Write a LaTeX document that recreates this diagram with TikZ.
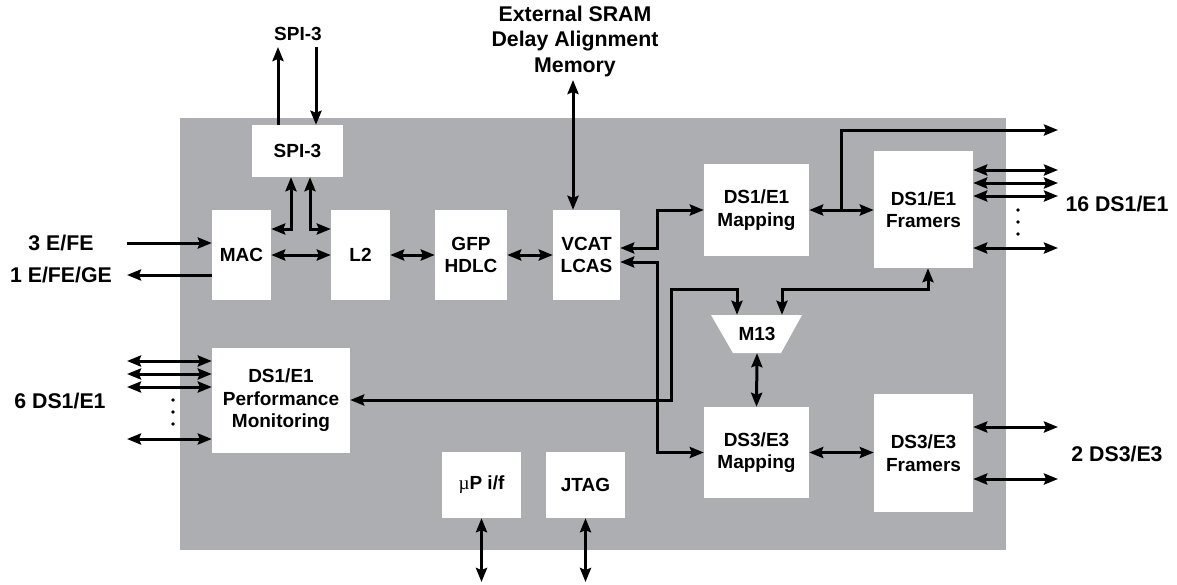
\documentclass[tikz,border=0pt]{standalone}
\usepackage{fontspec}
\setmainfont{Liberation Sans}
\newfontfamily\mufont{Liberation Serif}
\usetikzlibrary{arrows.meta}
\definecolor{chip}{RGB}{172,174,177}
\tikzset{
  tip/.tip={Stealth[length=14pt,width=11pt,inset=2pt]},
}
\begin{document}
\begin{tikzpicture}[x=1pt,y=-1pt,
  every node/.style={font=\bfseries\fontsize{19}{22.5}\selectfont, align=center, inner sep=0pt},
  extlbl/.style={font=\bfseries\fontsize{21.3}{25.5}\selectfont},
  blk/.style={fill=white, draw=none},
  uni/.style={line width=3pt, -tip},
  bi/.style={line width=3pt, tip-tip},
  dotmark/.style={fill=black},
]
\useasboundingbox (0,0) rectangle (1177,584);
\fill[chip] (180,118) rectangle (1006,550);

% blocks
\node[blk, minimum width=91pt, minimum height=52pt] (spi) at (297.5,151) {SPI-3};
\node[blk, minimum width=59pt, minimum height=90pt] (mac) at (241.5,255) {MAC};
\node[blk, minimum width=59pt, minimum height=90pt] (l2) at (360.5,255) {L2};
\node[blk, minimum width=72pt, minimum height=90pt] (gfp) at (471,255) {GFP\\HDLC};
\node[blk, minimum width=67pt, minimum height=90pt] (vcat) at (586.5,255) {VCAT\\LCAS};
\node[blk, minimum width=105pt, minimum height=92pt] (map1) at (756.5,210) {DS1/E1\\Mapping};
\node[blk, minimum width=99pt, minimum height=117pt] (fr1) at (923.5,209.5) {DS1/E1\\Framers};
\fill[white] (711,315) -- (802,315) -- (781,353) -- (733,353) -- cycle;
\node[minimum width=91pt, minimum height=38pt] (m13) at (757,334) {M13};
\node[blk, minimum width=105pt, minimum height=91pt] (map3) at (756.5,452.5) {DS3/E3\\Mapping};
\node[blk, minimum width=99pt, minimum height=118pt] (fr3) at (923.5,453) {DS3/E3\\Framers};
\node[blk, minimum width=138pt, minimum height=105pt] (pm) at (281,400.5) {DS1/E1\\Performance\\Monitoring};
\node[blk, minimum width=79pt, minimum height=66pt] (up) at (481.5,485) {{\mufont\mdseries µ}P i/f};
\node[blk, minimum width=79pt, minimum height=66pt] (jtag) at (585.5,485) {JTAG};

% external labels
\node (spilbl) at (298,34) {SPI-3};
\node[extlbl] (sram) at (575,41) {External SRAM\\Delay Alignment\\Memory};
\node[extlbl] (l3e) at (61,243) {3 E/FE};
\node[extlbl] (l1e) at (61,275) {1 E/FE/GE};
\node[extlbl] (l6) at (60,401) {6 DS1/E1};
\node[extlbl] (l16) at (1117,204) {16 DS1/E1};
\node[extlbl] (l2ds3) at (1117,454) {2 DS3/E3};

% SPI-3 external
\coordinate (so) at (278,47);
\coordinate (si) at (316,47);
\draw[uni] (spi.north -| so) -- (so);
\draw[uni] (si) -- (spi.north -| si);

% SPI-3 to MAC / L2
\coordinate (sa) at (291,229);
\coordinate (sb) at (310,229);
\draw[bi] (spi.south -| sa) -- (sa) -- (mac.east |- sa);
\draw[bi] (spi.south -| sb) -- (sb) -- (l2.west |- sb);

% datapath
\draw[bi] (mac.east) -- (l2.west);
\draw[bi] (l2.east) -- (gfp.west);
\draw[bi] (gfp.east) -- (vcat.west);

% ethernet in/out
\coordinate (ein) at (127,243);
\coordinate (eout) at (127,275);
\draw[uni] (ein) -- (mac.west |- ein);
\draw[uni] (mac.west |- eout) -- (eout);

% SRAM
\coordinate (sr) at (573,80);
\draw[bi] (sr) -- (vcat.north -| sr);

% VCAT to mappers
\coordinate (v1) at (657,248);
\coordinate (v2) at (657,262);
\draw[bi] (vcat.east |- v1) -- (v1) |- (map1.west);
\draw[bi] (vcat.east |- v2) -- (v2) |- (map3.west);

% DS1 mapping to framers + branch
\draw[bi] (map1.east) -- (fr1.west |- map1.east);
\coordinate (b1) at (841,210);
\coordinate (o16) at (1058,130);
\draw[uni] (b1) |- (o16);

% DS1 framer line outputs
\foreach \yy/\nm in {170/ra,183/rb,196/rc,248/rd} {
  \coordinate (\nm) at (1058,\yy);
  \draw[bi] (fr1.east |- \nm) -- (\nm);
}
\foreach \yy in {210,222,234} \fill[dotmark] (1018,\yy) circle (1.8pt);

% PM <-> M13
\coordinate (p1) at (671,400);
\coordinate (p2) at (671,289);
\coordinate (p3) at (737,289);
\draw[bi] (pm.east |- p1) -- (p1) -- (p2) -- (p3) -- (p3 |- m13.north);

% Framers <-> M13
\coordinate (q1) at (928,289);
\coordinate (q2) at (782,289);
\draw[bi] (q1 |- fr1.south) -- (q1) -- (q2) -- (q2 |- m13.north);

% M13 <-> DS3 mapping
\draw[bi] (m13.south) -- (map3.north);
\draw[bi] (map3.east) -- (fr3.west |- map3.east);

% DS3 outputs
\coordinate (t1) at (1058,427);
\coordinate (t2) at (1058,479);
\draw[bi] (fr3.east |- t1) -- (t1);
\draw[bi] (fr3.east |- t2) -- (t2);

% PM line inputs
\foreach \yy/\nm in {361/pa,374/pb,387/pc,439/pd} {
  \coordinate (\nm) at (127,\yy);
  \draw[bi] (\nm) -- (pm.west |- \nm);
}
\foreach \yy in {400,412,424} \fill[dotmark] (173,\yy) circle (1.8pt);

% uP and JTAG
\coordinate (ue) at (481.5,582);
\coordinate (je) at (585.5,582);
\draw[bi] (up.south) -- (up.south |- ue);
\draw[bi] (jtag.south) -- (jtag.south |- je);
\end{tikzpicture}
\end{document}
